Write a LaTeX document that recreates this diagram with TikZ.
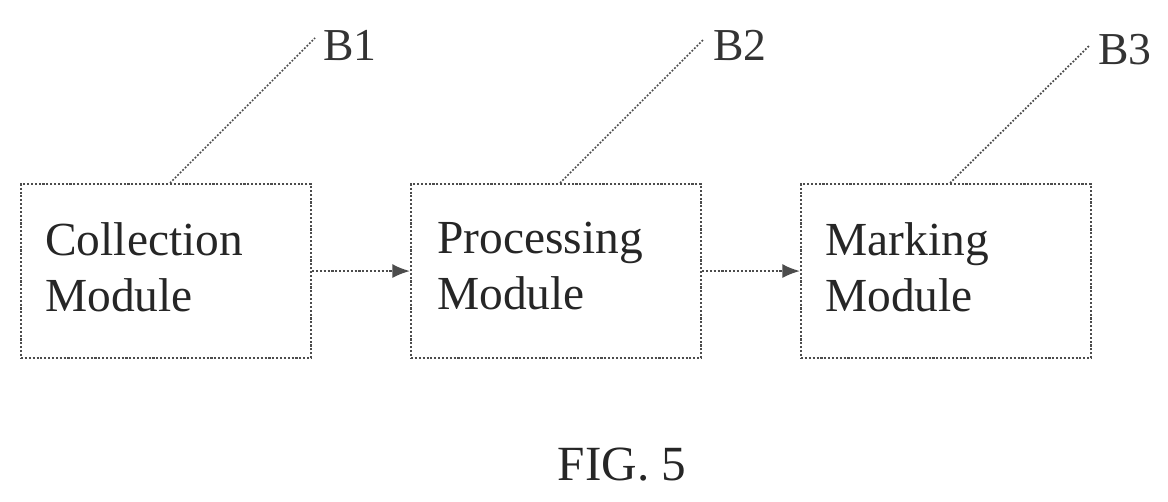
\documentclass[tikz,border=0pt]{standalone}
\usepackage{fontspec}
\setmainfont{Liberation Serif}
\usetikzlibrary{arrows.meta}
\begin{document}
\begin{tikzpicture}[x=0.02cm,y=-0.02cm,
  box/.style={draw=black!70,densely dotted,line width=1.2pt,minimum width=290*0.02cm,minimum height=174*0.02cm,anchor=north west,inner sep=0pt},
  lbl/.style={font=\fontsize{27}{32}\selectfont,align=left,anchor=north west,inner sep=0pt,text=black!85},
  lead/.style={draw=black!70,densely dotted,line width=1pt},
  arr/.style={draw=black!70,densely dotted,line width=1.2pt,-{Latex[length=10pt,width=8pt]}},
  ref/.style={font=\fontsize{26}{30}\selectfont,text=black!80}]
\useasboundingbox (0,0) rectangle (1168,502);
\node[box] (b1) at (20,183) {};
\node[box] (b2) at (410,183) {};
\node[box] (b3) at (800,183) {};
\node[lbl] (t1) at (45,222) {Collection\\Module};
\node[lbl] (t2) at (437,222) {Processing\\Module};
\node[lbl] (t3) at (825,222) {Marking\\Module};
\coordinate (c1) at (315,38);
\coordinate (c2) at (703,40);
\coordinate (c3) at (1090,45);
\node[ref] (r1) at (350,45) {B1};
\node[ref] (r2) at (740,45) {B2};
\node[ref] (r3) at (1125,50) {B3};
\draw[lead] (170,183) -- (c1);
\draw[lead] (560,183) -- (c2);
\draw[lead] (950,183) -- (c3);
\draw[arr] (b1.east) -- (b2.west);
\draw[arr] (b2.east) -- (b3.west);
\node[font=\fontsize{28}{32}\selectfont,text=black!85] (fig) at (622,465) {FIG. 5};
\end{tikzpicture}
\end{document}
